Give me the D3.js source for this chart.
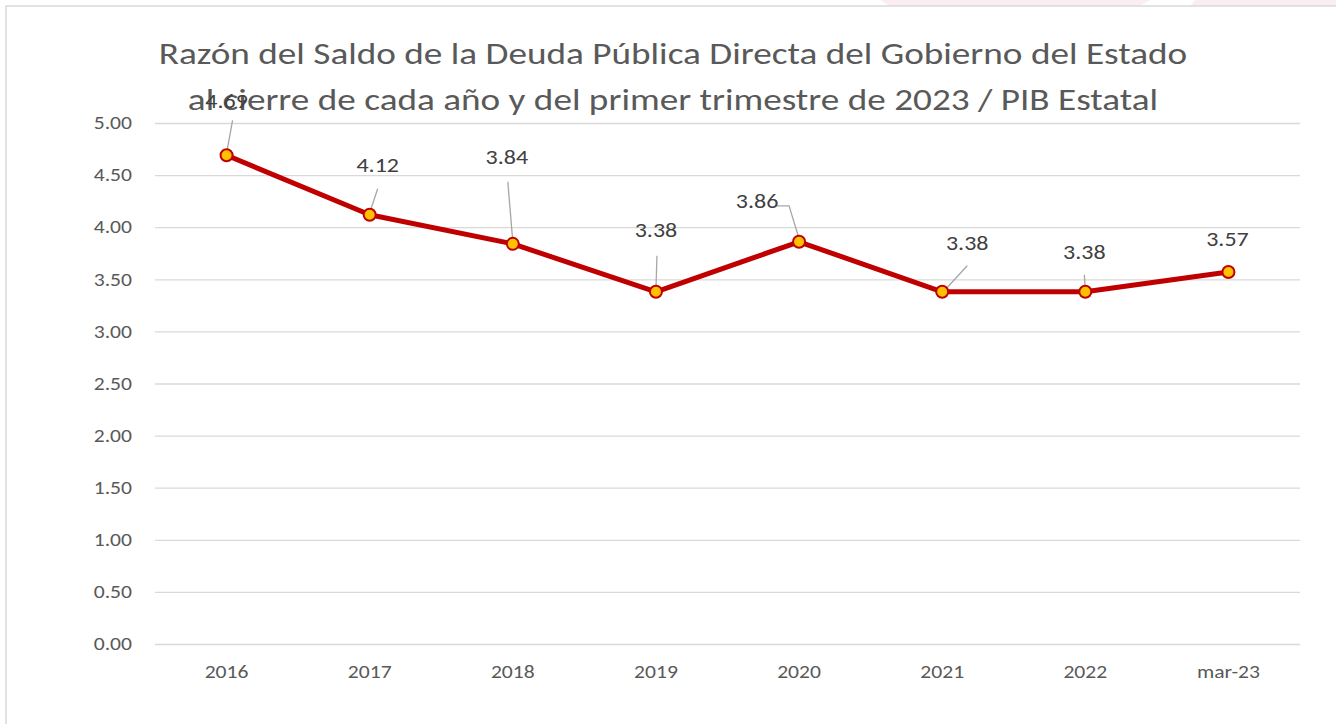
<!DOCTYPE html>
<html>
<head>
<meta charset="utf-8">
<script src="https://cdn.jsdelivr.net/npm/d3@7"></script>
<style>
  body { margin: 0; background: #fff; }
  text { font-family: Calibri, Carlito, Lato, sans-serif; }
</style>
</head>
<body>
<div id="chart"></div>
<script>
const categories = ['2016', '2017', '2018', '2019', '2020', '2021', '2022', 'mar-23']
const values = [4.69, 4.12, 3.84, 3.38, 3.86, 3.38, 3.38, 3.57]
const yTicks = [0, 0.5, 1, 1.5, 2, 2.5, 3, 3.5, 4, 4.5, 5]
const titleLines = [
  'Razón del Saldo de la Deuda Pública Directa del Gobierno del Estado',
  'al cierre de cada año y del primer trimestre de 2023 / PIB Estatal'
]
// label offsets relative to the point (dx, dy) and leader line shape
const labelPos = [
  { dx: 0, dy: -47, leader: [[6, -35], [0, -2]] },
  { dx: 8, dy: -43, leader: [[8, -26], [0, -2]] },
  { dx: -6, dy: -80, leader: [[-5, -62], [0, -2]] },
  { dx: 0, dy: -55, leader: [[1, -36], [0, -2]] },
  { dx: -42, dy: -34, leader: [[-23, -36], [-10, -36], [0, -3]] },
  { dx: 25, dy: -42, leader: [[25, -26], [2, -1]] },
  { dx: -1, dy: -33, leader: [[-1, -17], [0, -2]] },
  { dx: -1, dy: -26, leader: null }
]

const width = 1336
const height = 724
const margin = { top: 123, left: 155, right: 36, bottom: 80 }

// the source picture is a bit wider than normal type, so widen the glyphs
function stretch(selection, k) {
  selection.each(function() {
    const len = this.getComputedTextLength()
    d3.select(this)
      .attr('textLength', len * k)
      .attr('lengthAdjust', 'spacingAndGlyphs')
  })
}

const svg = d3
  .select('#chart')
  .append('svg')
  .attr('width', width)
  .attr('height', height)

// faint background shapes above the chart frame
svg.append('path')
  .attr('d', 'M880,0 L1150,0 L1140,6 L890,6 Z')
  .attr('fill', '#fbeef0')
svg.append('path')
  .attr('d', 'M1195,0 L1336,0 L1336,6 L1190,6 Z')
  .attr('fill', '#fbeef0')

// chart frame
svg.append('rect')
  .attr('x', 6)
  .attr('y', 6)
  .attr('width', width + 10)
  .attr('height', height + 10)
  .attr('fill', '#fff')
  .attr('stroke', '#d9d9d9')
  .attr('stroke-width', 1.5)

const xPositionScale = d3
  .scaleBand()
  .domain(categories)
  .range([margin.left, width - margin.right])

const yPositionScale = d3
  .scaleLinear()
  .domain([0, 5])
  .range([height - margin.bottom, margin.top])

const yAxis = d3
  .axisLeft(yPositionScale)
  .tickValues(yTicks)
  .tickSize(-(width - margin.right - margin.left))
  .tickPadding(23)
  .tickFormat(d3.format('.2f'))
svg
  .append('g')
  .attr('class', 'axis y-axis')
  .attr('transform', 'translate(' + margin.left + ',0)')
  .call(yAxis)

svg.selectAll('.y-axis path').remove()
svg
  .selectAll('.y-axis line')
  .attr('stroke', '#d9d9d9')
  .attr('stroke-width', 1.3)
svg
  .selectAll('.y-axis text')
  .attr('fill', '#595959')
  .attr('font-size', 18)
  .call(stretch, 1.2)

const xAxis = d3.axisBottom(xPositionScale).tickSize(0).tickPadding(21)
svg
  .append('g')
  .attr('class', 'axis x-axis')
  .attr('transform', 'translate(0,' + (height - margin.bottom) + ')')
  .call(xAxis)

svg.selectAll('.x-axis path').remove()
svg
  .selectAll('.x-axis text')
  .attr('fill', '#595959')
  .attr('font-size', 18)
  .call(stretch, 1.2)

// title
svg
  .selectAll('.title')
  .data(titleLines)
  .enter()
  .append('text')
  .attr('class', 'title')
  .attr('x', 673)
  .attr('y', (d, i) => 64 + i * 46)
  .attr('text-anchor', 'middle')
  .attr('font-size', 31)
  .attr('fill', '#595959')
  .text(d => d)
  .call(stretch, 1.2)

const points = categories.map((c, i) => ({
  cat: c,
  value: values[i],
  x: xPositionScale(c) + xPositionScale.bandwidth() / 2,
  y: yPositionScale(values[i]),
  pos: labelPos[i]
}))

const line = d3
  .line()
  .x(d => d.x)
  .y(d => d.y)

svg
  .append('path')
  .datum(points)
  .attr('d', line)
  .attr('stroke', '#c00000')
  .attr('stroke-width', 5)
  .attr('stroke-linejoin', 'round')
  .attr('fill', 'none')

// leader lines
svg
  .selectAll('.leader')
  .data(points.filter(d => d.pos.leader))
  .enter()
  .append('polyline')
  .attr('class', 'leader')
  .attr('points', d => d.pos.leader.map(p => (d.x + p[0]) + ',' + (d.y + p[1])).join(' '))
  .attr('fill', 'none')
  .attr('stroke', '#a6a6a6')
  .attr('stroke-width', 1.3)

svg
  .selectAll('.marker')
  .data(points)
  .enter()
  .append('circle')
  .attr('class', 'marker')
  .attr('r', 6)
  .attr('cx', d => d.x)
  .attr('cy', d => d.y)
  .attr('fill', '#ffc000')
  .attr('stroke', '#c00000')
  .attr('stroke-width', 2)

svg
  .selectAll('.label')
  .data(points)
  .enter()
  .append('text')
  .attr('class', 'label')
  .attr('x', d => d.x + d.pos.dx)
  .attr('y', d => d.y + d.pos.dy)
  .attr('text-anchor', 'middle')
  .attr('font-size', 20)
  .attr('fill', '#404040')
  .text(d => d.value.toFixed(2))
  .call(stretch, 1.2)
</script>
</body>
</html>
